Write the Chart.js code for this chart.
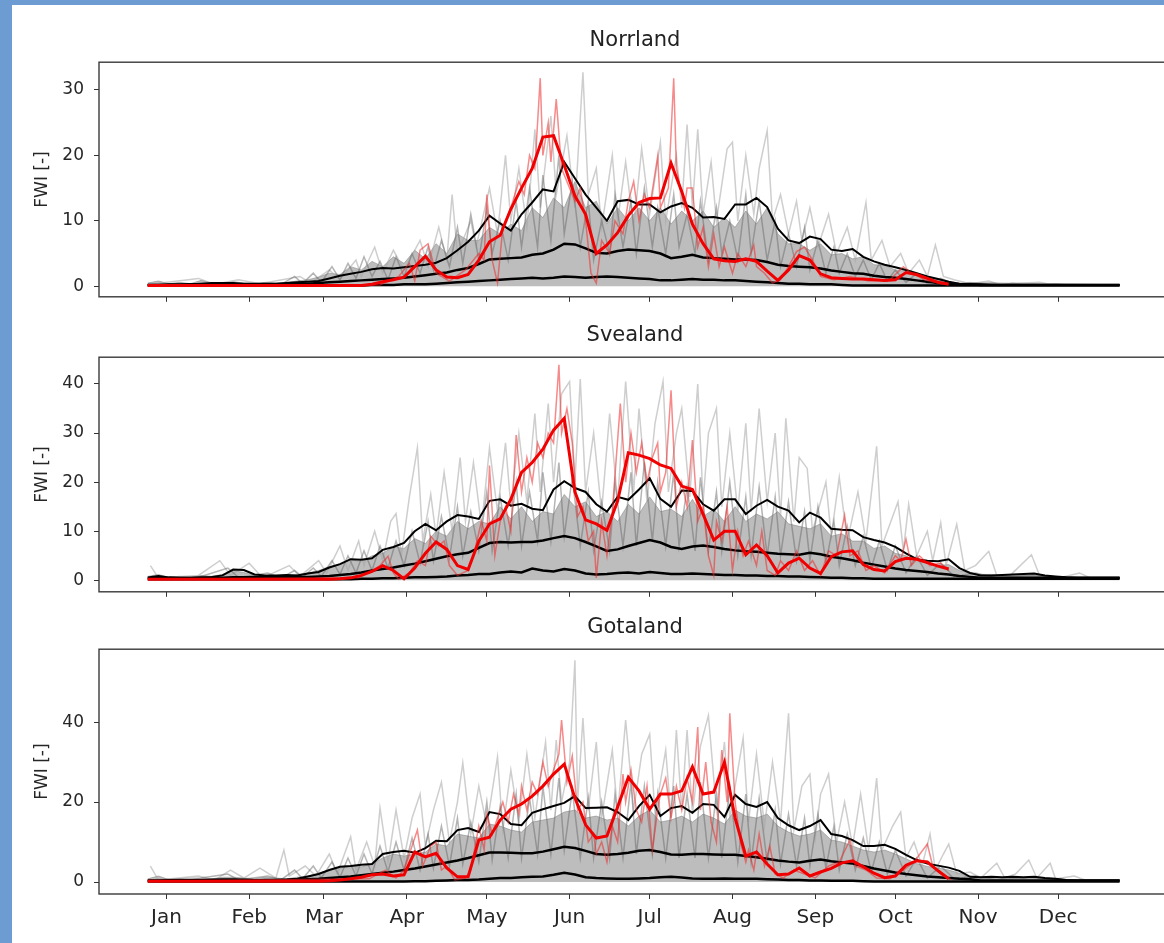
<!DOCTYPE html>
<html>
<head>
<meta charset="utf-8">
<script src="https://cdn.jsdelivr.net/npm/chart.js@4/dist/chart.umd.min.js"></script>
<style>
  html, body { margin: 0; padding: 0; width: 1164px; height: 943px; overflow: hidden; background: #6c9cd2; }
  #sheet { position: absolute; left: 12px; top: 5px; width: 1152px; height: 938px; background: #fff; overflow: hidden; }
  canvas { position: absolute; left: 0; }
</style>
</head>
<body>
<div id="sheet">
  <canvas id="norr" width="1188" height="297" style="top:15px"></canvas>
  <canvas id="svea" width="1188" height="297" style="top:310px"></canvas>
  <canvas id="gota" width="1188" height="327" style="top:602px"></canvas>
</div>
<script>
// x axis: day of year, month ticks
const monthLabels = ['Jan', 'Feb', 'Mar', 'Apr', 'May', 'Jun', 'Jul', 'Aug', 'Sep', 'Oct', 'Nov', 'Dec'];
const monthTickDays = [7, 38, 66, 97, 127, 158, 188, 219, 250, 280, 311, 341];
const days = Array.from({ length: 92 }, (_, i) => i * 4);

const norrYTicks = [0, 10, 20, 30];
const sveaYTicks = [0, 10, 20, 30, 40];
const gotaYTicks = [0, 20, 40];

// ---- Norrland ----
const norrUpper = [0.2,0.2,0.3,0.3,0.3,0.4,0.5,0.5,0.5,0.4, 0.4,0.4,0.4,0.5,0.6,0.7,0.8,1.2,1.6,1.9,
  2.2,2.6,2.8,2.7,2.9,3.1,3.3,3.6,4.3,5.5, 6.8,8.5,10.8,9.6,8.5,11.0,12.8,14.8,14.5,19.0,
  16.5,14.0,12.0,10.0,13.0,13.2,12.5,12.5,11.3,12.2, 12.7,12.0,10.5,10.6,10.3,12.5,12.5,13.5,12.1,8.8,
  7.0,6.6,7.6,7.2,5.6,5.4,5.7,4.5,3.8,3.3, 2.9,2.5,2.0,1.5,1.1,0.7,0.4,0.3,0.3,0.2,
  0.2,0.2,0.2,0.2,0.2,0.2,0.2,0.2,0.2,0.2,0.2,0.2];
const norrMean = [0.2,0.2,0.2,0.2,0.3,0.3,0.3,0.3,0.3,0.3, 0.3,0.3,0.3,0.3,0.4,0.4,0.5,0.6,0.7,0.8,
  0.9,1.0,1.1,1.2,1.3,1.5,1.7,1.9,2.1,2.5, 2.8,3.4,4.1,4.2,4.3,4.4,4.8,5.0,5.6,6.5,
  6.4,5.8,5.1,5.0,5.4,5.6,5.5,5.4,5.0,4.3, 4.5,4.8,4.4,4.3,4.2,4.1,4.1,4.0,3.7,3.3,
  3.1,3.0,2.9,2.7,2.4,2.2,2.0,1.9,1.6,1.4, 1.3,1.1,0.9,0.7,0.5,0.4,0.3,0.3,0.2,0.2,
  0.2,0.2,0.2,0.2,0.2,0.2,0.2,0.2,0.2,0.2,0.2,0.2];
const norrLower = [0.1,0.1,0.1,0.1,0.1,0.1,0.1,0.1,0.1,0.1, 0.1,0.1,0.1,0.1,0.1,0.1,0.1,0.1,0.1,0.1,
  0.1,0.2,0.2,0.2,0.3,0.3,0.3,0.4,0.5,0.6, 0.7,0.8,0.9,1.0,1.1,1.2,1.3,1.2,1.3,1.5,
  1.4,1.3,1.4,1.5,1.4,1.3,1.2,1.1,0.9,0.9, 1.0,1.1,1.0,1.0,0.9,0.9,0.8,0.7,0.6,0.5,
  0.4,0.4,0.3,0.3,0.3,0.2,0.1,0.1,0.1,0.1, 0.1,0.1,0.1,0.1,0.1,0.1,0.1,0.1,0.1,0.1,
  0.1,0.1,0.1,0.1,0.1,0.1,0.1,0.1,0.1,0.1,0.1,0.1];
const norrRed = [0.1,0.1,0.1,0.1,0.1,0.1,0.1,0.1,0.1,0.1, 0.1,0.1,0.1,0.1,0.1,0.1,0.1,0.1,0.1,0.1,
  0.1,0.3,0.7,1.0,1.4,3.0,4.6,2.5,1.4,1.3, 1.8,4.0,6.8,7.8,11.8,15.0,18.0,22.8,23.0,18.5,
  13.8,11.0,5.0,6.3,8.2,10.8,12.8,13.4,13.5,18.8, 14.5,9.5,6.5,4.2,3.9,3.8,4.2,3.8,2.3,0.9,
  2.5,4.7,4.0,1.9,1.3,1.2,1.1,1.1,1.0,0.9, 1.0,2.1,1.8,1.2,0.6,0.3];
const norrGreyBand = [0.5,0.8,0.4,0.6,0.4,0.9,0.5,0.4,0.7,0.5,0.4,0.6,0.5,0.6,0.8,1.0,
  1.4,2.0,1.8,3.0,2.5,3.8,3.0,4.5,3.5,5.5,4.2,6.5,5.0,8.0,7.0,
  7.0,9.0,8.0,9.5,8.5,12.0,10.5,13.5,12.0,16.0,12.0,13.0,9.5,12.0,10.0,
  12.0,10.0,12.0,9.5,11.5,10.0,11.5,9.0,10.5,9.0,11.5,9.5,12.0,8.0,6.5,
  6.5,5.5,6.5,4.8,5.0,4.2,4.5,3.3,3.2,2.5,2.3,1.7,1.4,0.9,0.6,
  0.5,0.6,0.4,0.5,0.3,0.5,0.3,0.4,0.3,0.4,0.3,0.3,0.3,0.3,0.3,0.3];
const norrRedDaily = [[0,0.1],[87,0.2],[94,1.5],[98,3.5],[100,0.8],[102,5.5],[105,6.5],[108,2],[113,0.8],[119,2.5],
  [124,5],[126,4],[127,14],[129,4],[131,0.5],[133,9],[136,12],[139,16],[141,14],[143,20],
  [145,18],[147,31.8],[148,20],[150,25],[151,19],[153,28.6],[155,18],[157,16],[160,13],[162,15],
  [164,10],[166,2],[168,0.5],[170,7],[173,5],[175,10],[178,8],[180,13],[182,16],[184,10],
  [186,14],[188,12],[191,19.9],[192,12],[195,15],[197,31.8],[198,18],[201,12],[202,15],[204,15],
  [206,6],[208,9],[210,3],[212,8],[214,3],[216,6],[219,2],[221,5],[224,3],[227,6.3],
  [228,3],[231,2],[234,0.5],[237,1],[240,3],[243,5.3],[246,6],[249,4],[252,1.5],[257,1],
  [263,1.5],[270,0.8],[278,1],[283,3],[286,2],[291,1],[298,0.3]];
const norrGreyYears = [[1,0.3],[19,1.2],[25,0.3],[34,1.0],[42,0.4],[57,1.5],[61,0.5],[68,2.5],[72,1],[78,4],
  [80,1.5],[85,6],[88,2],[92,5.5],[96,2.5],[102,7],[105,3],[109,9],[112,4],[114,14],
  [116,5],[121,10],[123,6],[128,15],[131,8],[134,20],[136,10],[139,18],[142,9],[145,24],
  [147,12],[151,26],[153,14],[157,23],[160,12],[163,32.7],[165,14],[168,18],[170,9],[174,20],
  [176,10],[179,19],[182,9],[185,21],[188,11],[192,22],[194,10],[198,20],[200,12],[202,24.7],
  [204,12],[206,24],[208,11],[211,19],[213,10],[217,21],[219,22],[221,10],[224,20],[227,11],
  [229,18],[232,23.8],[234,10],[237,14],[240,8],[243,13],[245,7],[248,12],[251,6],[255,11],
  [258,5],[262,9],[265,4],[269,12.8],[271,4],[275,7],[278,3],[282,5],[285,2],[289,4],
  [292,1.5],[295,6.3],[298,1.5],[302,1],[308,0.4],[315,0.8],[319,0.3],[334,0.6],[338,0.3],[364,0.3]];
const norrGreyYears2 = [[0,0.3],[50,0.3],[55,1.5],[58,0.4],[62,2],[65,0.6],[69,3],[72,1],[75,3.5],[78,1.2],
  [81,4.5],[84,1.5],[87,3.8],[90,1],[93,4.5],[96,1.5],[99,5],[102,2],[105,6],[107,2.5],
  [110,7],[113,3],[116,9],[118,3.5],[121,11],[124,4],[127,12],[129,5],[132,10],[135,4],
  [138,13],[140,6],[143,15],[146,6],[148,17],[151,7],[154,20],[156,8],[159,16],[162,6],
  [165,13],[167,4],[170,10],[173,5],[175,14],[178,6],[181,13],[183,5],[186,15],[189,6],
  [191,12],[194,5],[197,14],[199,6],[202,11],[205,5],[207,13],[210,4],[213,12],[215,5],
  [218,10],[221,4],[224,14],[226,5],[229,13],[232,4],[235,10],[237,3],[240,8],[243,3],
  [246,9],[248,2.5],[251,7],[254,2],[257,6],[259,2],[262,5],[265,1.5],[268,4],[271,1],
  [274,3.5],[277,0.8],[280,2.5],[284,0.6],[288,2],[292,0.4],[297,1.2],[302,0.3],[310,0.5],[364,0.2]];

// ---- Svealand ----
const sveaUpper = [0.6,0.9,0.6,0.5,0.5,0.6,0.7,1.0,2.2,2.1, 1.2,1.0,1.0,1.1,1.0,1.4,1.7,2.6,3.3,4.3,
  4.2,4.5,6.2,6.8,7.6,10.0,11.5,10.2,12.0,13.3, 13.0,12.5,16.2,16.5,15.2,15.6,14.6,14.3,18.5,20.2,
  18.8,18.0,15.5,14.0,17.0,16.4,18.5,20.8,16.6,15.0, 18.3,18.2,15.5,14.2,16.5,16.5,13.5,15.2,16.4,15.0,
  14.2,11.8,13.8,12.8,10.5,10.3,10.2,8.8,8.2,7.7, 6.8,5.5,4.3,4.0,3.9,4.3,2.5,1.5,1.0,1.0,
  1.1,1.2,1.3,1.4,1.0,0.8,0.6,0.5,0.5,0.5,0.5,0.5];
const sveaMean = [0.4,0.4,0.4,0.4,0.4,0.4,0.5,0.5,0.6,0.6, 0.6,0.6,0.6,0.6,0.7,0.7,0.8,0.9,1.1,1.3,
  1.6,2.0,2.3,2.6,3.0,3.4,3.9,4.4,4.9,5.3, 5.6,6.6,7.6,7.8,7.7,7.8,7.8,8.1,8.6,9.0,
  8.6,7.8,6.9,6.0,6.3,7.0,7.6,8.2,7.7,6.8, 6.4,6.9,7.1,6.8,6.4,6.1,5.9,5.8,5.6,5.4,
  5.3,5.2,5.6,5.3,4.8,4.5,4.1,3.6,3.2,2.8, 2.4,2.1,1.9,1.7,1.4,1.2,0.9,0.7,0.5,0.5,
  0.5,0.5,0.5,0.5,0.5,0.5,0.5,0.5,0.5,0.5,0.5,0.5];
const sveaLower = [0.2,0.2,0.2,0.2,0.2,0.2,0.2,0.2,0.2,0.2, 0.2,0.2,0.2,0.2,0.2,0.2,0.2,0.2,0.2,0.2,
  0.3,0.3,0.4,0.4,0.5,0.6,0.6,0.7,0.8,1.0, 1.1,1.3,1.3,1.6,1.8,1.6,2.4,2.0,1.8,2.3,
  2.0,1.4,1.2,1.3,1.5,1.6,1.4,1.7,1.5,1.3, 1.3,1.4,1.3,1.2,1.1,1.1,1.0,1.0,0.9,0.9,
  0.8,0.8,0.7,0.6,0.5,0.5,0.4,0.4,0.3,0.3, 0.3,0.3,0.3,0.3,0.3,0.3,0.3,0.3,0.3,0.3,
  0.3,0.3,0.3,0.3,0.3,0.3,0.3,0.3,0.3,0.3,0.3,0.3];
const sveaRed = [0.2,0.2,0.2,0.2,0.2,0.2,0.2,0.2,0.2,0.2, 0.2,0.2,0.2,0.2,0.2,0.2,0.2,0.2,0.3,0.5,
  1.0,1.8,3.0,2.0,0.3,2.5,5.5,7.8,6.3,3.0, 2.2,8.0,11.5,12.5,16.5,22.0,24.0,26.7,30.6,33.0,
  18.0,12.3,11.5,10.2,16.2,26.0,25.5,24.8,23.5,22.8, 19.2,18.5,13.5,8.2,10.0,10.0,5.2,7.2,5.0,1.5,
  3.5,4.5,2.5,1.4,4.8,5.8,6.0,3.2,2.2,1.9, 3.8,4.5,4.3,3.6,2.9,2.3];
const sveaGreyBand = [0.8,1.2,0.6,0.8,0.6,1.0,0.8,1.2,2.0,1.6,1.0,0.8,1.0,0.8,1.2,1.5,
  2.0,2.8,3.2,4.2,3.8,5.0,5.5,6.8,6.5,8.5,7.5,10.0,9.0,12.0,10.5,
  12.0,11.5,15.0,12.5,15.0,12.0,14.0,13.5,17.5,15.0,16.0,13.0,14.0,12.0,15.5,
  13.5,17.0,14.0,14.5,13.0,16.5,13.0,14.5,12.0,15.0,12.0,13.5,12.5,14.0,11.5,
  11.0,10.5,11.5,9.0,9.5,8.0,8.0,6.5,7.0,5.5,5.0,3.8,3.8,3.0,3.2,
  2.0,1.5,1.2,1.2,1.0,1.2,1.1,1.2,1.0,0.8,0.6,0.6,0.5,0.5,0.5,0.5];
const sveaRedDaily = [[0,0.2],[79,0.5],[84,2],[87,3],[90,4.9],[92,1.5],[94,0.2],[98,1.5],[101,4],[104,3],
  [106,9],[109,7],[111,8],[113,3],[116,1],[120,2],[122,5],[125,12],[127,8],[128,23.4],
  [130,5],[132,12],[134,15],[136,10],[138,29.6],[140,18],[142,25],[144,20],[146,28],[148,25],
  [150,30],[152,28],[154,43.9],[155,30],[157,35],[159,28],[161,13],[163,15],[165,8],[167,10],
  [168,0.5],[170,12],[172,5],[174,14],[177,36],[179,20],[181,30],[183,22],[185,28],[187,20],
  [189,25],[191,28],[192,18],[194,22],[196,38.7],[198,15],[200,20],[202,15],[204,28.6],[206,12],
  [208,15],[210,5],[212,1],[213,12],[215,8],[217,15],[219,2],[221,10],[223,5],[225,8],
  [228,3],[230,10],[232,2],[235,1],[237,4],[240,2],[243,6],[246,2],[249,4],[252,1],
  [255,6],[258,5],[261,13.3],[263,5],[266,6],[269,2],[272,3],[276,1.5],[280,5],[282,4],
  [284,8.4],[286,3],[289,5],[293,3],[297,3.5],[300,2]];
const sveaGreyYears = [[1,3],[4,0.5],[19,1],[27,4],[31,1],[38,3.5],[43,0.5],[53,3],[57,0.8],[64,4],
  [67,1.5],[72,7],[75,2],[79,8],[81,3],[85,10],[88,4],[91,12],[93,13.6],[95,5],
  [98,17],[101,27],[103,8],[106,17.5],[108,9],[111,22],[114,10],[117,25],[119,12],[122,24],
  [125,11],[128,27],[131,14],[134,28],[136,15],[139,30],[142,16],[145,34],[147,18],[150,36],
  [152,20],[155,38],[158,40.5],[160,20],[162,41],[164,18],[167,30],[170,14],[173,34],[176,16],
  [179,40.5],[182,18],[184,35],[187,16],[190,32],[193,40.5],[195,18],[198,30],[200,35],[203,17],
  [206,40],[208,16],[210,30],[213,35],[215,15],[218,30],[221,14],[224,32],[226,14],[229,35],
  [232,16],[235,30],[237,13],[239,33],[242,12],[244,25],[247,22.8],[249,10],[254,20],[256,9],
  [259,21],[262,8],[266,18],[269,8],[273,27.3],[275,7],[281,16],[283,6],[285,15.5],[288,5],
  [292,10],[294,4],[297,11.7],[299,3],[303,11.4],[306,2],[310,3],[315,5.9],[318,1],[323,1],
  [331,5.2],[334,1],[342,0.6],[349,1.5],[353,0.5],[364,0.5]];
const sveaGreyYears2 = [[0,0.5],[20,0.8],[30,2.5],[34,0.6],[45,1.5],[50,0.5],[55,2],[58,0.6],[62,2.5],[65,0.8],
  [69,4],[72,1.2],[75,5],[78,1.5],[81,6],[84,2],[87,7],[90,2.5],[93,8],[96,3],
  [99,10],[102,3.5],[105,12],[107,4],[110,13],[113,4.5],[116,15],[118,5],[121,14],[124,6],
  [127,18],[129,6],[132,17],[135,7],[138,20],[140,7],[143,18],[146,8],[148,22],[151,8],
  [154,24],[156,9],[159,21],[162,7],[165,18],[167,6],[170,16],[173,6],[175,20],[178,7],
  [181,22],[183,7],[186,24],[189,8],[191,20],[194,7],[197,22],[199,7],[202,19],[205,6],
  [207,21],[210,6],[213,18],[215,6],[218,20],[221,5],[224,17],[226,5],[229,19],[232,5],
  [235,17],[237,5],[240,16],[243,4],[246,14],[248,4],[251,15],[254,3.5],[257,12],[259,3],
  [262,11],[265,3],[268,9],[271,2.5],[274,8],[277,2],[280,7],[284,1.5],[288,5],[292,1],
  [297,3.5],[302,0.8],[310,1.5],[318,0.5],[330,1],[345,0.5],[364,0.5]];

// ---- Gotaland ----
const gotaUpper = [0.4,0.4,0.5,0.5,0.5,0.5,0.6,0.7,0.7,0.6, 0.5,0.5,0.5,0.6,0.8,1.4,2.0,3.0,3.8,4.0,
  4.3,4.5,7.0,7.5,7.8,7.3,8.5,10.3,10.2,13.0, 13.5,12.5,17.5,17.0,14.5,14.2,17.3,18.2,19.0,19.8,
  21.5,18.5,18.6,18.7,17.5,15.5,19.0,21.8,16.5,18.5, 19.0,17.3,19.5,19.3,16.3,21.8,19.5,18.8,20.0,16.0,
  14.2,13.0,14.0,15.5,12.0,11.5,10.5,9.0,9.0,9.3, 8.3,6.8,5.5,4.6,4.1,3.6,2.8,1.3,1.2,1.3,
  1.2,1.3,1.2,1.3,1.0,0.8,0.5,0.4,0.4,0.4,0.4,0.4];
const gotaMean = [0.3,0.3,0.3,0.3,0.3,0.3,0.4,0.4,0.4,0.4, 0.4,0.5,0.5,0.5,0.6,0.7,0.8,1.0,1.2,1.4,
  1.7,2.0,2.3,2.6,3.0,3.4,3.9,4.4,4.9,5.4, 6.0,6.7,7.4,7.4,7.3,7.2,7.2,7.6,8.2,8.8,
  8.5,7.8,7.0,6.8,7.0,7.3,7.8,8.0,7.5,6.9, 6.8,7.0,7.0,6.9,6.8,6.8,6.5,6.2,5.8,5.4,
  5.1,4.9,5.3,5.6,5.2,4.9,4.6,4.0,3.4,2.9, 2.4,2.0,1.7,1.4,1.2,1.0,0.8,0.7,0.4,0.4,
  0.4,0.4,0.4,0.4,0.4,0.4,0.4,0.4,0.4,0.4,0.4,0.4];
const gotaLower = [0.1,0.1,0.1,0.1,0.1,0.1,0.1,0.1,0.1,0.1, 0.1,0.1,0.1,0.1,0.1,0.1,0.1,0.1,0.1,0.1,
  0.1,0.1,0.1,0.1,0.1,0.2,0.2,0.3,0.4,0.5, 0.5,0.6,0.8,1.0,1.0,1.2,1.3,1.4,1.8,2.3,
  1.9,1.2,1.0,0.9,0.8,0.8,0.9,1.0,1.2,1.3, 1.1,0.9,0.8,0.8,0.9,0.8,0.8,0.8,0.7,0.6,
  0.5,0.5,0.4,0.4,0.3,0.3,0.3,0.2,0.1,0.1, 0.1,0.1,0.1,0.1,0.1,0.1,0.1,0.1,0.1,0.1,
  0.1,0.1,0.1,0.1,0.1,0.1,0.1,0.1,0.1,0.1,0.1,0.1];
const gotaRed = [0.2,0.2,0.2,0.2,0.2,0.2,0.2,0.2,0.2,0.2, 0.2,0.2,0.2,0.2,0.2,0.2,0.2,0.3,0.5,0.8,
  1.2,1.8,2.0,1.5,1.8,7.5,6.3,7.2,3.5,1.3, 1.3,10.5,11.2,15.5,18.2,19.5,21.5,24.0,27.0,29.5,
  21.0,14.3,11.0,11.5,18.8,26.2,22.8,18.2,22.0,22.0, 22.8,28.8,22.0,22.5,30.0,16.0,6.5,7.5,4.5,1.8,
  2.0,3.5,1.5,2.5,3.4,4.8,5.3,3.8,2.2,1.1, 1.5,4.2,5.3,5.0,2.8,0.8];
const gotaGreyBand = [0.8,1.5,0.6,0.8,0.6,1.0,0.8,1.2,1.2,1.0,0.8,1.2,1.0,0.8,1.2,1.5,
  2.2,3.0,3.5,4.0,3.8,4.5,6.0,7.0,6.5,7.0,7.5,9.5,9.0,12.0,11.5,
  11.0,14.5,14.0,13.0,12.5,15.0,15.5,16.0,17.5,18.0,16.0,16.5,15.5,16.0,14.0,
  16.5,18.0,15.0,15.5,16.5,15.0,17.0,16.0,14.5,18.0,16.5,16.0,17.0,14.0,12.5,
  11.5,12.0,13.0,10.5,10.0,9.0,8.0,7.5,8.0,7.0,5.8,4.6,3.9,3.5,3.0,
  2.2,1.2,1.0,1.1,1.0,1.1,1.0,1.1,0.9,0.7,0.5,0.4,0.4,0.4,0.4,0.4];
const gotaRedDaily = [[0,0.2],[83,0.8],[89,3],[93,1],[96,3],[99,9],[101,13],[103,4],[106,9],[108,10],
  [110,3],[112,4],[115,0.5],[119,1],[121,3],[124,14],[126,8],[127,17],[129,12],[131,16],
  [133,20],[135,15],[137,22],[139,17],[140,24],[142,18],[144,25],[146,22],[148,30],[150,24],
  [152,28],[154,32],[155,40.5],[157,25],[159,31.5],[161,18],[163,20],[165,10],[167,12],[168,7],
  [170,10],[172,5],[174,14],[176,10],[178,27],[179,20],[181,28],[183,18],[185,15],[187,24],
  [189,8],[191,18],[192,22],[194,26],[196,16],[198,24],[200,18],[202,26],[204,20],[206,38.8],
  [207,18],[209,30],[211,15],[213,10],[215,33],[217,20],[218,42.2],[220,20],[222,10],[224,5],
  [225,8],[227,3],[229,12],[231,4],[233,9],[235,2],[238,1],[242,3],[246,2],[250,1],
  [255,4],[259,5],[263,10.5],[265,4],[269,3],[273,1],[278,0.8],[283,3],[287,5],[292,9.5],
  [294,4],[297,2],[301,0.5]];
const gotaGreyYears = [[1,4],[4,0.5],[19,1.5],[25,0.5],[31,3],[36,1],[42,3.5],[48,1],[51,8],[53,1.5],
  [59,4],[63,1.5],[68,7],[71,2],[76,11.3],[78,3],[82,10],[85,4],[87,18.5],[90,5],
  [93,18],[96,6],[99,16],[102,22],[104,9],[107,18],[110,25],[113,10],[116,20],[118,29.8],
  [121,12],[124,24],[127,14],[131,31.3],[133,13],[136,28],[139,15],[142,32],[145,16],[149,35],
  [151,18],[153,35.5],[155,20],[158,30],[160,55.5],[161,20],[163,41],[165,18],[168,35],[170,16],
  [174,33],[176,17],[179,40.5],[182,18],[185,32],[188,37],[190,17],[194,33],[196,16],[198,38],
  [200,18],[202,38],[204,17],[207,34],[210,41.7],[213,18],[216,35],[218,16],[223,36],[225,15],
  [228,32],[231,14],[234,30],[237,15],[240,42.2],[242,13],[245,24],[248,27],[250,11],[252,22],
  [255,27],[258,10],[261,20],[264,9],[267,22],[270,8],[273,26],[275,8],[279,14],[282,17.5],
  [284,6],[287,10],[290,4],[293,12],[295,3],[298,7],[300,9.5],[303,2],[308,2.5],[312,1],
  [318,4.7],[321,1],[325,2],[330,5.5],[333,1],[338,4.7],[340,0.8],[347,1.5],[351,0.5],[364,0.5]];
const gotaGreyYears2 = [[0,0.5],[20,1],[30,2],[34,0.5],[45,1.5],[50,0.6],[55,3],[58,0.8],[62,4],[65,1],
  [69,5],[72,1.2],[75,6],[78,1.5],[81,7],[84,2],[87,9],[90,2.5],[93,10],[96,3],
  [99,11],[102,3],[105,12],[107,3.5],[110,14],[113,4],[116,16],[118,4.5],[121,15],[124,5],
  [127,20],[129,5.5],[132,19],[135,6],[138,22],[140,6],[143,21],[146,7],[148,24],[151,7],
  [154,26],[156,8],[159,23],[162,6],[165,21],[167,6],[170,20],[173,6],[175,22],[178,6],
  [181,25],[183,7],[186,24],[189,7],[191,22],[194,6],[197,24],[199,6],[202,22],[205,6],
  [207,25],[210,6],[213,22],[215,6],[218,24],[221,5],[224,22],[226,5],[229,21],[232,5],
  [235,18],[237,4.5],[240,17],[243,4],[246,16],[248,4],[251,17],[254,3.5],[257,14],[259,3],
  [262,12],[265,3],[268,11],[271,2.5],[274,10],[277,2],[280,8],[284,1.5],[288,6],[292,1],
  [297,4],[302,0.8],[310,1.5],[318,0.5],[330,1.2],[345,0.5],[364,0.5]];

Chart.defaults.font.family = 'DejaVu Sans';
Chart.defaults.color = '#262626';

const onGrid = vals => vals.map((v, i) => ({ x: days[i], y: v }));
const fromPairs = pairs => pairs.map(p => ({ x: p[0], y: p[1] }));

// axes box (all four spines)
const frame = {
  id: 'frame',
  afterDatasetsDraw(chart) {
    const { ctx, chartArea: a } = chart;
    ctx.save();
    ctx.strokeStyle = '#3a3a3a';
    ctx.lineWidth = 1.4;
    ctx.strokeRect(a.left, a.top, a.right - a.left, a.bottom - a.top);
    ctx.restore();
  }
};

function makePanel(id, title, yMin, yMax, yTicks, s, showMonths) {
  return new Chart(document.getElementById(id), {
    type: 'line',
    data: {
      datasets: [
        { data: onGrid(s.red), borderColor: 'rgb(240,0,0)', borderWidth: 3 },
        { data: fromPairs(s.redDaily), borderColor: 'rgba(238,40,40,0.55)', borderWidth: 1.5 },
        { data: onGrid(s.upper), borderColor: '#000', borderWidth: 2 },
        { data: onGrid(s.mean), borderColor: '#000', borderWidth: 2.5 },
        { data: onGrid(s.lower), borderColor: '#000', borderWidth: 2.5 },
        { data: fromPairs(s.greyYears2), borderColor: 'rgba(105,105,105,0.5)', borderWidth: 1.5 },
        { data: fromPairs(s.greyYears), borderColor: 'rgba(165,165,165,0.55)', borderWidth: 1.5 },
        { data: onGrid(s.band), borderColor: 'rgba(125,125,125,0.5)', backgroundColor: 'rgba(135,135,135,0.55)', borderWidth: 1, fill: 'origin' }
      ]
    },
    options: {
      responsive: false,
      animation: false,
      elements: { point: { radius: 0 }, line: { tension: 0 } },
      layout: { padding: { top: 8, right: 29, bottom: 0, left: 0 } },
      plugins: {
        legend: { display: false },
        tooltip: { enabled: false },
        title: {
          display: true, text: title, fullSize: false, color: '#222',
          font: { size: 21, weight: 'normal' }, padding: { top: 0, bottom: 9 }
        }
      },
      scales: {
        x: {
          type: 'linear', min: -18.25, max: 383.25,
          afterBuildTicks: sc => { sc.ticks = monthTickDays.map(v => ({ value: v })); },
          afterFit: sc => { sc.height = showMonths ? 40 : 10; },
          grid: { drawOnChartArea: false, tickLength: 5, color: '#333' },
          border: { display: false },
          ticks: {
            display: showMonths, autoSkip: false, maxRotation: 0, padding: 7,
            font: { size: 20 }, callback: (v, i) => monthLabels[i]
          }
        },
        y: {
          min: yMin, max: yMax,
          afterBuildTicks: sc => { sc.ticks = yTicks.map(v => ({ value: v })); },
          afterFit: sc => { sc.width = 87; },
          grid: { drawOnChartArea: false, tickLength: 5, color: '#333' },
          border: { display: false },
          ticks: { padding: 10, font: { size: 17 } },
          title: { display: true, text: 'FWI [-]', font: { size: 17 }, padding: { top: 20, bottom: 0 } }
        }
      }
    },
    plugins: [frame]
  });
}

makePanel('norr', 'Norrland', -1.61, 34.24, norrYTicks, {
  red: norrRed, redDaily: norrRedDaily, upper: norrUpper, mean: norrMean, lower: norrLower,
  greyYears: norrGreyYears, greyYears2: norrGreyYears2, band: norrGreyBand
}, false);
makePanel('svea', 'Svealand', -2.34, 45.46, sveaYTicks, {
  red: sveaRed, redDaily: sveaRedDaily, upper: sveaUpper, mean: sveaMean, lower: sveaLower,
  greyYears: sveaGreyYears, greyYears2: sveaGreyYears2, band: sveaGreyBand
}, false);
makePanel('gota', 'Gotaland', -3.0, 58.25, gotaYTicks, {
  red: gotaRed, redDaily: gotaRedDaily, upper: gotaUpper, mean: gotaMean, lower: gotaLower,
  greyYears: gotaGreyYears, greyYears2: gotaGreyYears2, band: gotaGreyBand
}, true);
</script>
</body>
</html>
